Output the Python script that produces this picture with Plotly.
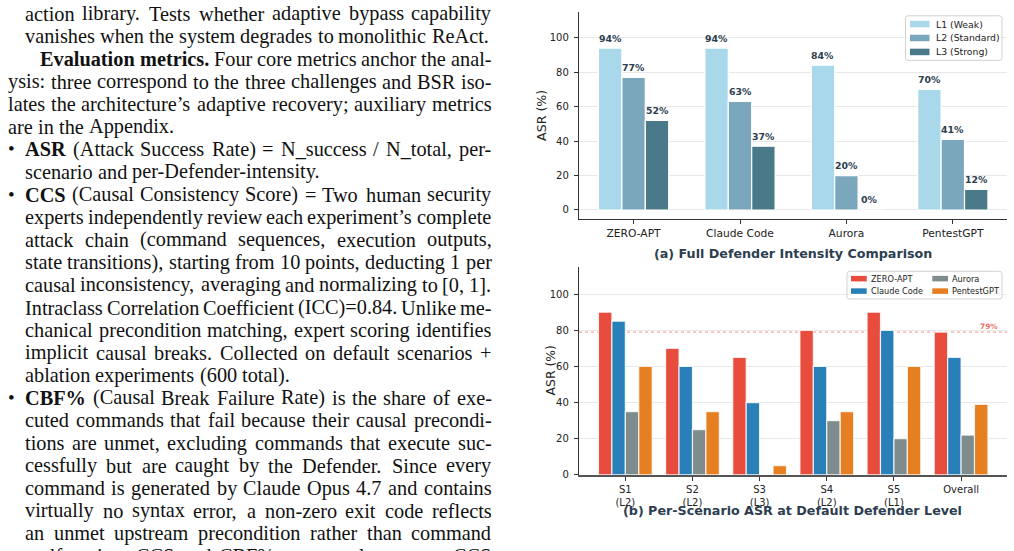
import plotly.graph_objects as go

W, H = 1014, 551

# ------------------------------------------------------------------ data
systems_a = ["ZERO-APT", "Claude Code", "Aurora", "PentestGPT"]
levels_a = ["L1 (Weak)", "L2 (Standard)", "L3 (Strong)"]
asr_l1 = [94, 94, 84, 70]
asr_l2 = [77, 63, 20, 41]
asr_l3 = [52, 37, 0, 12]

scenarios_b = ["S1<br>(L2)", "S2<br>(L2)", "S3<br>(L3)", "S4<br>(L2)", "S5<br>(L1)", "Overall"]
systems_b = ["ZERO-APT", "Claude Code", "Aurora", "PentestGPT"]
zero_apt = [90, 70, 65, 80, 90, 79]
claude_code = [85, 60, 40, 60, 80, 65]
aurora = [35, 25, 0, 30, 20, 22]
pentestgpt = [60, 35, 5, 35, 60, 39]
zero_apt_overall = 79

title_a = "(a) Full Defender Intensity Comparison"
title_b = "(b) Per-Scenario ASR at Default Defender Level"
y_title = "ASR (%)"
y_ticks = [0, 20, 40, 60, 80, 100]

# body text of the page (words between * * are bold)
text_lines = [
    "action library. Tests whether adaptive bypass capability",
    "vanishes when the system degrades to monolithic ReAct.",
    "*Evaluation* *metrics.* Four core metrics anchor the anal-",
    "ysis: three correspond to the three challenges and BSR iso-",
    "lates the architecture\u2019s adaptive recovery; auxiliary metrics",
    "are in the Appendix.",
    "*ASR* (Attack Success Rate) = N_success / N_total, per-",
    "scenario and per-Defender-intensity.",
    "*CCS* (Causal Consistency Score) = Two human security",
    "experts independently review each experiment\u2019s complete",
    "attack chain (command sequences, execution outputs,",
    "state transitions), starting from 10 points, deducting 1 per",
    "causal inconsistency, averaging and normalizing to [0,\u00a01].",
    "Intraclass Correlation Coefficient (ICC)=0.84. Unlike me-",
    "chanical precondition matching, expert scoring identifies",
    "implicit causal breaks. Collected on default scenarios +",
    "ablation experiments (600 total).",
    "*CBF%* (Causal Break Failure Rate) is the share of exe-",
    "cuted commands that fail because their causal precondi-",
    "tions are unmet, excluding commands that execute suc-",
    "cessfully but are caught by the Defender. Since every",
    "command is generated by Claude Opus 4.7 and contains",
    "virtually no syntax error, a non-zero exit code reflects",
    "an unmet upstream precondition rather than command",
    "malfunction. CCS and CBF% are complementary: CCS",
]
# line kinds: (indent kind, justified?)
line_kinds = [
    ("item", True), ("item", False), ("indent", True), ("par", True), ("par", True),
    ("par", False), ("bullet", True), ("item", False), ("bullet", True), ("item", True),
    ("item", True), ("item", True), ("item", True), ("item", True), ("item", True),
    ("item", True), ("item", False), ("bullet", True), ("item", True), ("item", True),
    ("item", True), ("item", True), ("item", True), ("item", True), ("item", True),
]

# ------------------------------------------------------------------ helpers
def px(x):
    return x / W


def py(y):
    return 1 - y / H


# Times (Liberation Serif) advance widths, 1/1000 em
REG, BOLD = {}, {}
for w, chars in [(250, " .,\u00a0"), (278, "ijlt:;/\\"), (333, "frI()[]-\u2019'"), (389, "sJ"),
                 (444, "acez?"), (500, "bdghknopquvxy0123456789_*"), (556, "FPS"),
                 (564, "=+<>"), (611, "ETLZ"), (667, "BCR"), (722, "wADGHKNOQUVXY"),
                 (778, "m&"), (833, "%"), (889, "M"), (944, "W")]:
    for c in chars:
        REG[c] = w
for w, chars in [(250, " .,"), (278, "il"), (333, "ft()[]-:;j"), (389, "sI"), (444, "cerz"),
                 (500, "agvxyoJ0123456789"), (556, "bdhknpquS"), (611, "FP"), (667, "BELTZ"),
                 (722, "wACDNRUVXY"), (778, "GHKOQ"), (833, "m"), (944, "M"), (1000, "%W")]:
    for c in chars:
        BOLD[c] = w

FS = 20.3
LEFT = {"item": 25.0, "par": 8.0, "indent": 40.0, "bullet": 25.0}
RIGHT = 491.5
CENTER0, LEAD = 14.0, 22.84
SERIF = "Liberation Serif"
DEJAVU = "DejaVu Sans"


def wwidth(word, bold):
    t = BOLD if bold else REG
    return sum(t.get(c, 500) for c in word) / 1000.0 * FS


annotations = []
for i, (line, (kind, just)) in enumerate(zip(text_lines, line_kinds)):
    words = []
    for tok in line.split(" "):
        bold = len(tok) > 2 and tok.startswith("*") and tok.endswith("*")
        word = tok[1:-1] if bold else tok
        words.append((word, bold, wwidth(word, bold)))
    left = LEFT[kind]
    total = sum(w[2] for w in words)
    if just and len(words) > 1:
        gap = (RIGHT - left - total) / (len(words) - 1)
    else:
        gap = 0.25 * FS
    yc = CENTER0 + i * LEAD
    x = left
    for word, bold, wd in words:
        txt = word.replace("<", "&lt;")
        if bold:
            txt = "<b>" + txt + "</b>"
        annotations.append(dict(
            x=px(x), y=py(yc), xref="paper", yref="paper", xanchor="left", yanchor="middle",
            text=txt, showarrow=False, borderpad=0, borderwidth=0,
            font=dict(family=SERIF, size=FS, color="#111111")))
        x += wd + gap
    if kind == "bullet":
        annotations.append(dict(
            x=px(11.5), y=py(yc - 0.5), xref="paper", yref="paper", xanchor="center", yanchor="middle",
            text="\u2022", showarrow=False, borderpad=0, borderwidth=0,
            font=dict(family=SERIF, size=19, color="#111111")))

# ------------------------------------------------------------------ figure
fig = go.Figure()

colors_a = ["#a8d8ea", "#7aa7bc", "#4a7a8a"]
vals_a = [asr_l1, asr_l2, asr_l3]
wa = 0.22
for k, (name, vals, col) in enumerate(zip(levels_a, vals_a, colors_a)):
    off = -1.5 * wa + k * wa
    fig.add_trace(go.Bar(
        x=systems_a, y=vals, name=name, xaxis="x", yaxis="y",
        width=wa, offset=off, marker=dict(color=col, line=dict(color="white", width=1.2)),
        showlegend=False, hoverinfo="skip"))
    for j, v in enumerate(vals):
        annotations.append(dict(
            x=j + off + wa / 2, y=v, xref="x", yref="y", yshift=10, showarrow=False,
            text="<b>%d%%</b>" % v, xanchor="center", yanchor="middle",
            font=dict(family=DEJAVU, size=9.4, color="#2c3e50")))

colors_b = ["#e74c3c", "#2980b9", "#7f8c8d", "#e67e22"]
vals_b = [zero_apt, claude_code, aurora, pentestgpt]
wb = 0.2
for k, (name, vals, col) in enumerate(zip(systems_b, vals_b, colors_b)):
    off = -2 * wb + k * wb
    fig.add_trace(go.Bar(
        x=scenarios_b, y=vals, name=name, xaxis="x2", yaxis="y2",
        width=wb, offset=off, marker=dict(color=col, line=dict(color="rgba(255,255,255,0.8)", width=1.2)),
        showlegend=False, hoverinfo="skip"))

shapes = []
# average reference line
shapes.append(dict(type="line", xref="x2 domain", yref="y2", x0=0, x1=1,
                   y0=zero_apt_overall, y1=zero_apt_overall,
                   line=dict(color="rgba(231,76,60,0.35)", width=1.6, dash="dot"), layer="below"))
annotations.append(dict(x=0.957, y=zero_apt_overall, xref="x2 domain", yref="y2", yshift=6,
                        xanchor="center", yanchor="middle",
                        showarrow=False, text="<b>%d%%</b>" % zero_apt_overall,
                        font=dict(family=DEJAVU, size=7.4, color="rgba(231,76,60,0.8)")))


def legend_box(x0, y0, x1, y1, r=2.5):
    X0, X1 = px(x0), px(x1)
    Y0, Y1 = py(y0), py(y1)
    rx, ry = r / W, r / H
    path = (f"M{X0+rx},{Y0} L{X1-rx},{Y0} Q{X1},{Y0} {X1},{Y0-ry} L{X1},{Y1+ry} "
            f"Q{X1},{Y1} {X1-rx},{Y1} L{X0+rx},{Y1} Q{X0},{Y1} {X0},{Y1+ry} "
            f"L{X0},{Y0-ry} Q{X0},{Y0} {X0+rx},{Y0} Z")
    return dict(type="path", xref="paper", yref="paper", path=path,
                line=dict(color="#cccccc", width=0.9), fillcolor="rgba(255,255,255,0.85)")


# legend (a)
shapes.append(legend_box(905.5, 16, 1002, 61))
for k, (name, col) in enumerate(zip(levels_a, colors_a)):
    yc = 24.3 + k * 14.1
    shapes.append(dict(type="rect", xref="paper", yref="paper", x0=px(910), x1=px(929.5),
                       y0=py(yc - 3.3), y1=py(yc + 3.3), fillcolor=col, line=dict(width=0)))
    annotations.append(dict(x=px(935.5), y=py(yc), xref="paper", yref="paper", xanchor="left",
                            yanchor="middle", text=name, showarrow=False, borderpad=0, borderwidth=0,
                            font=dict(family=DEJAVU, size=9.3, color="#222222")))

# legend (b): two columns, column-major order
shapes.append(legend_box(847, 274.3, 1002, 302.3))
for k, (name, col) in enumerate(zip(systems_b, colors_b)):
    colx = [851, 932.3][k // 2]
    yc = [281.7, 294.3][k % 2]
    shapes.append(dict(type="rect", xref="paper", yref="paper", x0=px(colx), x1=px(colx + 15.7),
                       y0=py(yc - 2.8), y1=py(yc + 2.8), fillcolor=col, line=dict(width=0)))
    annotations.append(dict(x=px(colx + 19.7), y=py(yc), xref="paper", yref="paper", xanchor="left",
                            yanchor="middle", text=name, showarrow=False, borderpad=0, borderwidth=0,
                            font=dict(family=DEJAVU, size=8.2, color="#222222")))

# subplot titles and axis titles
annotations.append(dict(x=px(792.8), y=py(256.5), xref="paper", yref="paper", showarrow=False,
                        xanchor="center", yanchor="middle",
                        text="<b>%s</b>" % title_a, font=dict(family=DEJAVU, size=12.7, color="#2c3e50")))
annotations.append(dict(x=px(792.8), y=py(516.5), xref="paper", yref="paper", showarrow=False,
                        xanchor="center", yanchor="middle",
                        text="<b>%s</b>" % title_b, font=dict(family=DEJAVU, size=12.7, color="#2c3e50")))
annotations.append(dict(x=px(541.7), y=py(116.5), xref="paper", yref="paper", showarrow=False,
                        xanchor="center", yanchor="middle",
                        text=y_title, textangle=-90, font=dict(family=DEJAVU, size=12.6, color="#222222")))
annotations.append(dict(x=px(550.5), y=py(375), xref="paper", yref="paper", showarrow=False,
                        xanchor="center", yanchor="middle",
                        text=y_title, textangle=-90, font=dict(family=DEJAVU, size=12.4, color="#222222")))

xdom = [px(579), px(1007.4)]
common_x = dict(type="category", showline=True, ticks="outside", ticklen=4, tickwidth=1,
                tickcolor="#333333", showgrid=False, zeroline=False, fixedrange=True)
common_y = dict(showline=True, linecolor="#333333", linewidth=1.3, ticks="outside", ticklen=4,
                tickwidth=1, tickcolor="#333333", tickvals=y_ticks, showgrid=True,
                gridcolor="#e8e8e8", gridwidth=1, zeroline=False, fixedrange=True,
                tickfont=dict(family=DEJAVU, size=10, color="#222222"), ticklabelstandoff=3)

fig.update_layout(
    width=W, height=H, autosize=False,
    margin=dict(l=0, r=0, t=0, b=0, pad=0),
    paper_bgcolor="white", plot_bgcolor="white",
    barmode="overlay", showlegend=False,
    xaxis=dict(domain=xdom, anchor="y", range=[-0.513, 3.513], linecolor="#333333", linewidth=1.3,
               tickfont=dict(family=DEJAVU, size=10.7, color="#222222"), **common_x),
    yaxis=dict(domain=[py(221), py(12)], anchor="x", range=[-5, 115], **common_y),
    xaxis2=dict(domain=xdom, anchor="y2", range=[-0.69, 5.69], linecolor="#555555", linewidth=2,
                tickfont=dict(family=DEJAVU, size=10, color="#222222"), **common_x),
    yaxis2=dict(domain=[py(480), py(270)], anchor="x2", range=[0, 115], **common_y),
    annotations=annotations,
    shapes=shapes,
)

fig.write_html("out.html", config={"displayModeBar": False})
